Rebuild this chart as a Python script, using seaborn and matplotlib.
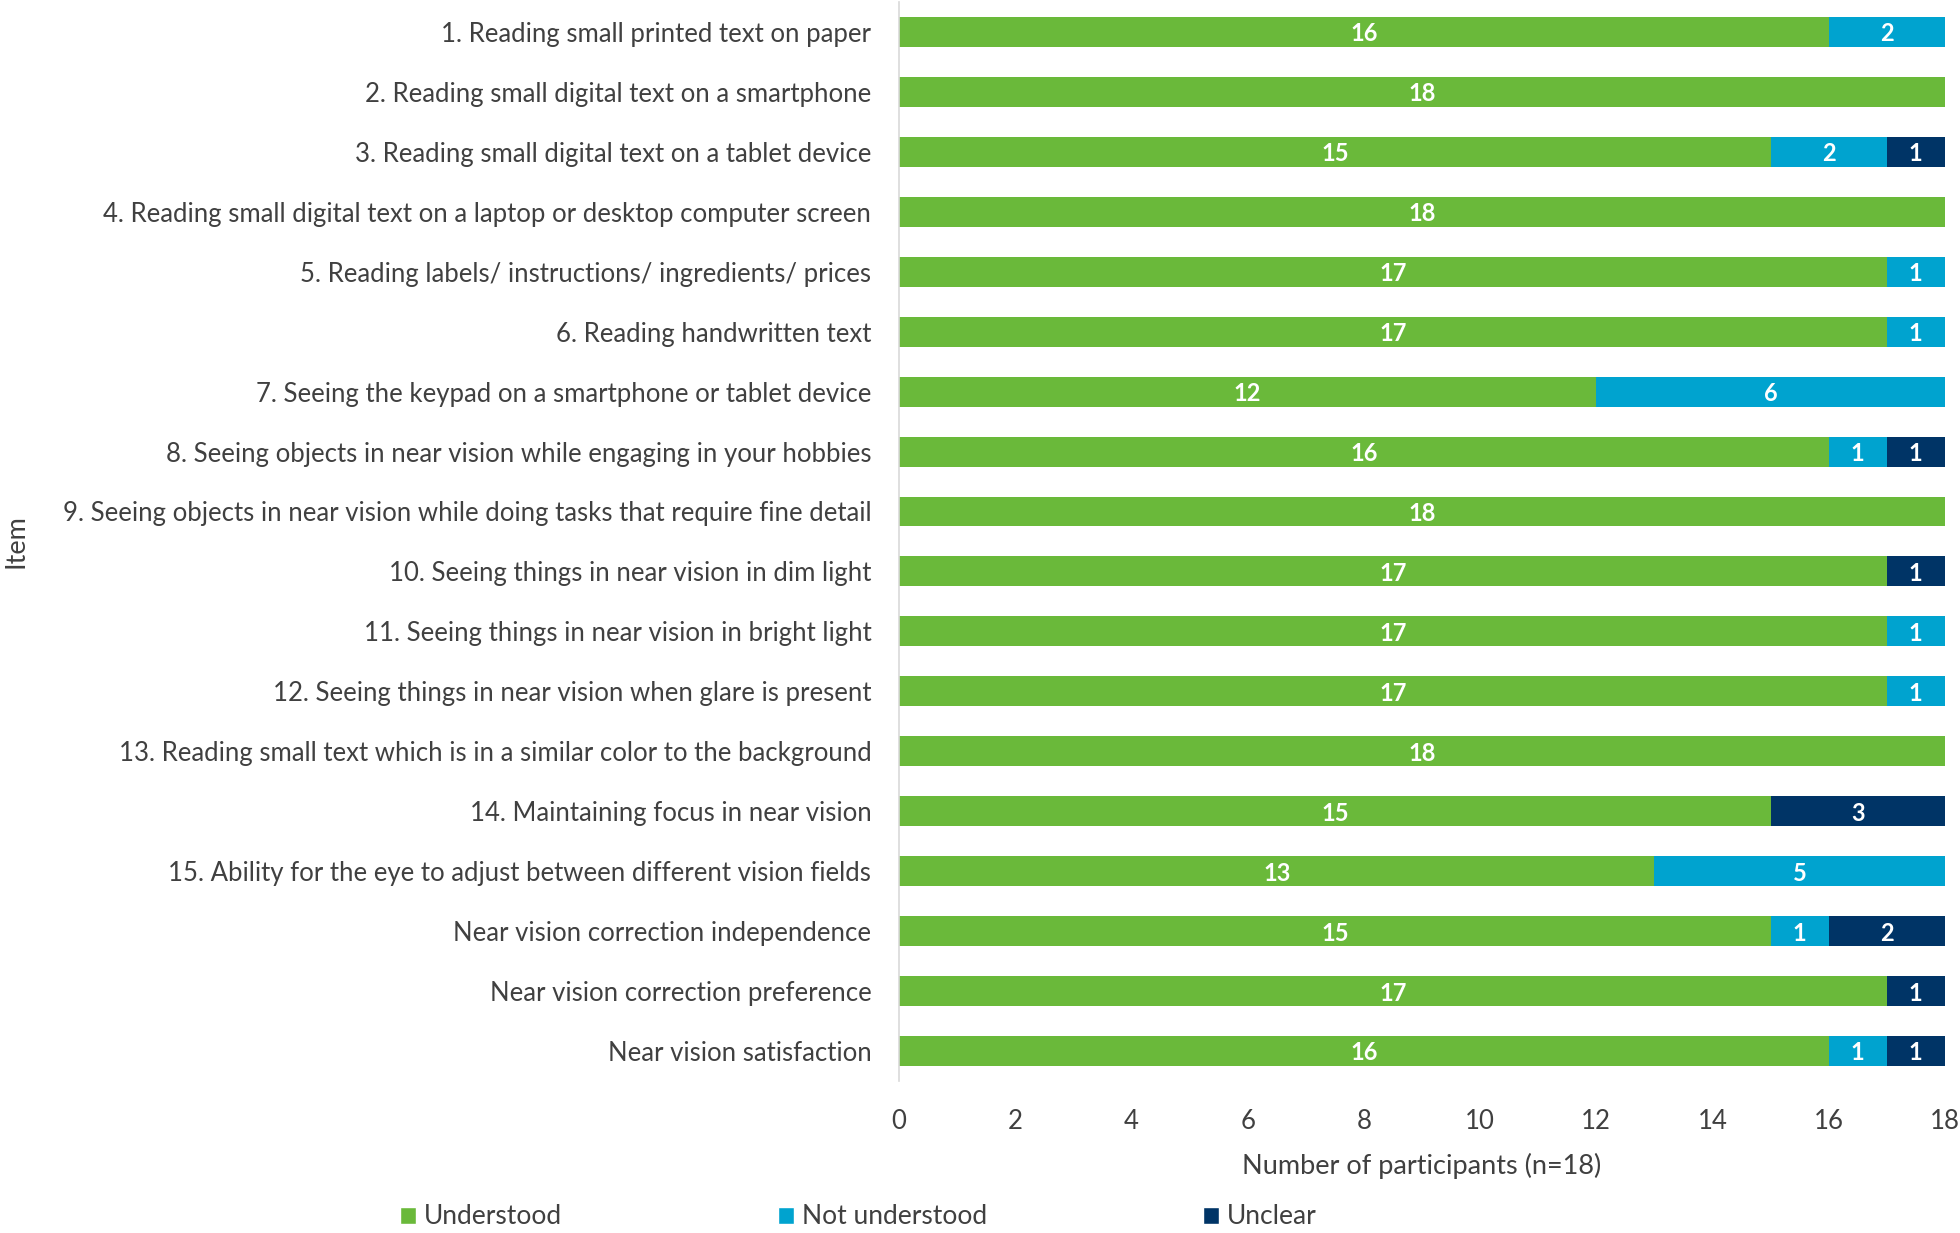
import numpy as np
import pandas as pd
import seaborn as sns
import matplotlib.pyplot as plt
from matplotlib.patches import Patch

items = [
    "1. Reading small printed text on paper",
    "2. Reading small digital text on a smartphone",
    "3. Reading small digital text on a tablet device",
    "4. Reading small digital text on a laptop or desktop computer screen",
    "5. Reading labels/ instructions/ ingredients/ prices",
    "6. Reading handwritten text",
    "7. Seeing the keypad on a smartphone or tablet device",
    "8. Seeing objects in near vision while engaging in your hobbies",
    "9. Seeing objects in near vision while doing tasks that require fine detail",
    "10. Seeing things in near vision in dim light",
    "11. Seeing things in near vision in bright light",
    "12. Seeing things in near vision when glare is present",
    "13. Reading small text which is in a similar color to the background",
    "14. Maintaining focus in near vision",
    "15. Ability for the eye to adjust between different vision fields",
    "Near vision correction independence",
    "Near vision correction preference",
    "Near vision satisfaction",
]
understood = [16, 18, 15, 18, 17, 17, 12, 16, 18, 17, 17, 17, 18, 15, 13, 15, 17, 16]
not_understood = [2, 0, 2, 0, 1, 1, 6, 1, 0, 0, 1, 1, 0, 0, 5, 1, 0, 1]
unclear = [0, 0, 1, 0, 0, 0, 0, 1, 0, 1, 0, 0, 0, 3, 0, 2, 1, 1]

series = ["Understood", "Not understood", "Unclear"]
colors = ["#6AB93A", "#00A3CF", "#003466"]

df = pd.DataFrame({"Item": items, "Understood": understood,
                   "Not understood": not_understood, "Unclear": unclear})
df["c1"] = df["Understood"]
df["c2"] = df["c1"] + df["Not understood"]
df["c3"] = df["c2"] + df["Unclear"]

sns.set_style("white")
plt.rcParams["font.family"] = ["Lato", "DejaVu Sans"]
text_col = "#404040"

fig = plt.figure(figsize=(19.6, 12.33), dpi=100)
ax = fig.add_axes([0.4587, 0.1233, 0.5336, 0.8751])

# stacked bars: draw cumulative totals from largest down
for col, c in zip(["c3", "c2", "c1"], colors[::-1]):
    sns.barplot(data=df, y="Item", x=col, color=c, orient="h", width=0.5,
                saturation=1, ax=ax, linewidth=0)

# segment labels
for i in range(len(items)):
    left = 0
    for s in series:
        v = df.loc[i, s]
        if v > 0:
            ax.text(left + v / 2, i, str(v), ha="center", va="center_baseline",
                    color="white", fontsize=17, fontweight="bold")
        left += v

ax.set_xlim(0, 18)
ax.set_ylim(len(items) - 0.5, -0.5)
ax.set_xticks(np.arange(0, 19, 2))
ax.tick_params(axis="both", length=0, labelsize=18.5, colors=text_col)
ax.tick_params(axis="y", pad=20)
ax.tick_params(axis="x", pad=20)
ax.set_xlabel("Number of participants (n=18)", fontsize=19.5, color=text_col, labelpad=14)
ax.set_ylabel("Item", fontsize=19.5, color=text_col)
ax.yaxis.set_label_coords(-0.832, 0.5)

for sp in ["top", "right", "bottom"]:
    ax.spines[sp].set_visible(False)
ax.spines["left"].set_color("#D9D9D9")
ax.spines["left"].set_linewidth(1.2)

handles = [Patch(facecolor=c, label=s) for s, c in zip(series, colors)]
fig.legend(handles=handles, loc="center left", bbox_to_anchor=(0.204, 0.013),
           ncol=3, frameon=False, fontsize=19, handlelength=0.6, handleheight=0.6,
           handletextpad=0.3, columnspacing=8.2, labelcolor=text_col,
           borderaxespad=0, borderpad=0)

fig.savefig("out.png", dpi=100)
